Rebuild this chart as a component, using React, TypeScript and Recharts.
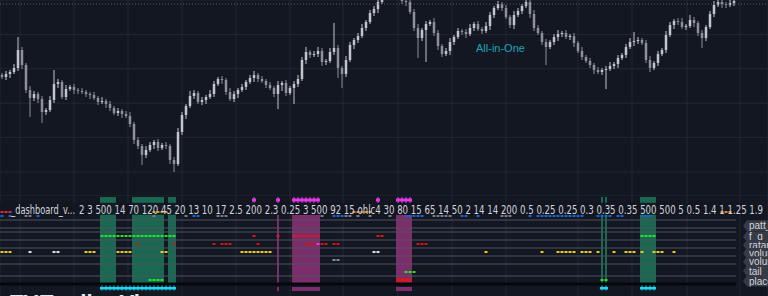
import React from "react";
import {
  ComposedChart,
  Bar,
  Scatter,
  XAxis,
  YAxis,
  CartesianGrid,
  ReferenceArea,
  ReferenceLine,
} from "recharts";

const W = 768;
const PRICE_H = 196;
const PANE_H = 100;
const BG = "#131722";

// ---- price pane (open = previous close) ----
const firstOpen = 125;
const closes = [
  123, 126, 128, 132, 150, 135, 110, 102, 106, 101,
  88, 90, 100, 116, 118, 103, 111, 113, 110, 109,
  108, 106, 105, 102, 98, 99, 96, 92, 87, 89,
  86, 84, 76, 60, 54, 45, 50, 55, 58, 52,
  55, 54, 40, 36, 68, 85, 94, 104, 107, 98,
  100, 103, 106, 116, 121, 120, 108, 101, 106, 110,
  113, 118, 122, 125, 121, 119, 115, 112, 106, 115,
  117, 107, 112, 116, 121, 140, 148, 145, 146, 149,
  138, 139, 148, 152, 132, 126, 140, 155, 160, 164,
  172, 178, 187, 191, 198, 204, 206, 205, 203, 202,
  199, 198, 188, 172, 162, 170, 176, 178, 167, 154,
  146, 149, 158, 163, 169, 168, 166, 172, 176, 171,
  169, 174, 185, 192, 196, 192, 183, 175, 185, 189,
  194, 198, 186, 172, 167, 158, 153, 158, 163, 166,
  167, 163, 164, 157, 149, 143, 139, 135, 130, 128,
  130, 131, 134, 136, 142, 145, 153, 158, 159, 160,
  157, 140, 132, 137, 146, 150, 165, 175, 179, 178,
  173, 174, 180, 177, 167, 162, 173, 186, 195, 198,
  196, 195, 197, 199,
];
const wickUp = [
  2, 3, 2, 4, 13, 3, 2, 4, 3, 2,
  3, 2, 4, 14, 3, 2, 4, 2, 3, 2,
  3, 2, 2, 3, 2, 4, 2, 3, 2, 3,
  2, 3, 4, 2, 3, 2, 4, 3, 2, 3,
  2, 3, 2, 3, 4, 3, 2, 5, 3, 2,
  3, 2, 4, 3, 2, 3, 2, 4, 3, 2,
  3, 2, 3, 4, 2, 3, 2, 3, 2, 4,
  2, 3, 2, 3, 4, 3, 5, 2, 3, 4,
  3, 2, 4, 25, 3, 2, 4, 3, 2, 3,
  4, 2, 3, 3, 2, 3, 2, 3, 2, 3,
  3, 2, 2, 3, 4, 2, 3, 2, 4, 3,
  2, 3, 4, 2, 3, 2, 3, 4, 2, 3,
  2, 4, 3, 2, 3, 2, 3, 2, 4, 3,
  2, 3, 2, 4, 3, 2, 3, 2, 3, 4,
  2, 3, 2, 3, 2, 4, 2, 3, 2, 3,
  2, 3, 4, 2, 3, 2, 3, 4, 9, 3,
  2, 3, 4, 2, 3, 2, 4, 3, 2, 3,
  4, 2, 5, 3, 2, 3, 2, 3, 4, 2,
  3, 2, 3, 2,
];
const wickDn = [
  2, 3, 4, 2, 3, 4, 3, 19, 3, 4,
  11, 3, 2, 3, 4, 2, 3, 2, 4, 3,
  2, 3, 4, 2, 3, 2, 4, 3, 2, 3,
  4, 2, 3, 4, 3, 10, 3, 2, 4, 3,
  2, 3, 4, 8, 2, 3, 4, 2, 3, 2,
  3, 4, 2, 3, 2, 4, 3, 2, 3, 4,
  2, 3, 2, 4, 3, 2, 3, 2, 3, 15,
  6, 3, 2, 16, 3, 2, 4, 3, 2, 3,
  4, 3, 2, 3, 10, 14, 3, 2, 4, 3,
  2, 3, 2, 3, 4, 2, 3, 2, 3, 2,
  3, 4, 2, 3, 20, 3, 32, 2, 3, 4,
  3, 2, 4, 3, 2, 3, 4, 2, 3, 2,
  3, 2, 4, 3, 2, 3, 2, 3, 4, 2,
  3, 2, 4, 3, 2, 3, 18, 2, 3, 4,
  3, 2, 3, 4, 2, 3, 2, 3, 4, 2,
  3, 19, 2, 3, 4, 2, 3, 2, 4, 3,
  2, 3, 4, 2, 3, 2, 3, 2, 4, 3,
  2, 3, 2, 4, 3, 10, 3, 2, 3, 2,
  4, 3, 2, 3,
];
const priceGrid = [28, 62.4, 96.8, 131.2, 165.6];
const timeGrid = [5, 18.5, 32, 45.5, 59, 72.5, 85.75, 99.5, 113, 126.5, 144.5, 158, 171.75, 185];
const lastPrice = 196;

// ---- indicator pane: runs of bar indices [from, to] ----
const greenBands = [[25, 28], [33, 40], [42, 43], [150, 150], [151, 151], [160, 163]];
const pinkBands = [[69, 69], [73, 79], [99, 102]];
const paneLines = [19, 17, 16, 14, 12, 10, 8, 5];

const topMarks = [[63, 63], [69, 69], [73, 79], [94, 94], [99, 102]];
const orangeRow = [[38, 41], [88, 92], [180, 182]];
const redHead = [[0, 2]];
const blueRow = [[0, 0], [2, 2], [9, 9], [48, 49], [83, 85], [101, 105], [115, 116], [119, 119], [132, 132], [134, 145], [149, 152], [154, 155], [160, 162]];
const greyRow = [[6, 7], [38, 38], [46, 46], [54, 56], [80, 80], [86, 87], [89, 89], [92, 92], [97, 97], [108, 112], [125, 127]];
const greenRow15 = [[25, 43], [160, 163]];
const redRow15 = [[63, 63], [69, 69], [73, 79], [94, 95]];
const redRow13 = [[34, 34], [43, 43], [53, 53], [55, 57], [64, 64], [76, 78], [80, 81], [83, 84], [104, 106]];
const pinkRow13 = [[79, 79]];
const yellowRow11 = [[0, 2], [21, 23], [29, 32], [40, 41], [60, 67], [121, 121], [135, 135], [139, 143], [145, 147], [149, 149], [153, 153], [156, 158], [160, 160], [163, 165], [168, 168]];
const whiteRow11 = [[7, 7], [13, 14], [93, 94]];
const greyRow9 = [[83, 83], [84, 84]];
const greenRow6 = [[101, 103]];
const greenRow4 = [[37, 40], [150, 151]];
const redRow4 = [[99, 102]];
const cyanRow2 = [[25, 43], [150, 151], [160, 163]];

const settingsText =
  "2 3 500 14 70 120 45 20 13 10 17 2.5 200 2.3 0.25 3 500 92 15 ohlc4 30 80 15 65 14 50 2 14 14 200 0.5 0.25 0.25 0.3 0.35 0.35 500 500 5 0.5 1.4 1 1.25 1.9";
const scaleLabels = ["patt_", "f_g", "ratar", "volum", "volum", "tail", "place"];
const scaleLabelY = [225.7, 236.7, 245, 253.3, 261.7, 271, 281];

const candles = closes.map((c, i) => {
  const o = i === 0 ? firstOpen : closes[i - 1];
  return {
    i: i + 0.5,
    o,
    c,
    range: [Math.min(o, c) - wickDn[i], Math.max(o, c) + wickUp[i]],
  };
});

const expand = (runs: number[][], level: number) =>
  runs.flatMap(([a, b]) =>
    Array.from({ length: b - a + 1 }, (_, k) => ({ x: a + k + 0.5, y: level }))
  );

function Candle(props: any) {
  const { x, y, width, height, payload } = props;
  if (!payload || height == null || isNaN(y)) return null;
  const [lo, hi] = payload.range;
  const top = Math.min(y, y + height);
  const h = Math.abs(height);
  const k = hi > lo ? h / (hi - lo) : 0;
  const bodyTop = top + (hi - Math.max(payload.o, payload.c)) * k;
  const bodyH = Math.max(1, Math.abs(payload.o - payload.c) * k);
  const cx = x + width / 2;
  const col = payload.c >= payload.o ? "#c3c5cc" : "#8e9199";
  return (
    <g>
      <line x1={cx} x2={cx} y1={top} y2={top + h} stroke={col} strokeWidth={1} />
      <rect x={cx - 1.25} y={bodyTop} width={2.5} height={bodyH} fill={col} />
    </g>
  );
}

const dot = (color: string, w = 3, h = 2) => (p: any) =>
  <rect x={p.cx - w / 2} y={p.cy - h / 2} width={w} height={h} fill={color} />;

const cross = (color: string) => (p: any) => (
  <g fill={color}>
    <rect x={p.cx - 2} y={p.cy - 1.5} width={4} height={3} />
    <rect x={p.cx - 0.5} y={p.cy - 3} width={1} height={6} />
  </g>
);

const tickMark = (color: string) => (p: any) => (
  <g fill={color}>
    <rect x={p.cx - 2} y={p.cy - 1} width={4} height={2.5} />
    <rect x={p.cx - 0.5} y={p.cy - 2.5} width={1} height={5} />
  </g>
);

const rows = [
  { data: expand(topMarks, 24), shape: cross("#e23be6") },
  { data: expand(orangeRow, 21), shape: dot("#d98a1c") },
  { data: expand(redHead, 21), shape: dot("#d32f2f") },
  { data: expand(blueRow, 20), shape: dot("#1e63c6") },
  { data: expand(greyRow, 20), shape: dot("#787b86") },
  { data: expand(greenRow15, 15), shape: dot("#22e620") },
  { data: expand(redRow15, 15), shape: dot("#e51414") },
  { data: expand(redRow13, 13), shape: dot("#d51010") },
  { data: expand(pinkRow13, 13), shape: dot("#e23be6") },
  { data: expand(yellowRow11, 11), shape: dot("#e6cc12") },
  { data: expand(whiteRow11, 11), shape: dot("#e0e2e8") },
  { data: expand(greyRow9, 9), shape: dot("#8a8d96") },
  { data: expand(greenRow6, 6), shape: dot("#22e620") },
  { data: expand(greenRow4, 4), shape: dot("#22e620") },
  { data: expand(redRow4, 4), shape: dot("#e51414", 4, 3) },
  { data: expand(cyanRow2, 2), shape: tickMark("#1ad8f0") },
];

const bandX = ([a, b]: number[]) =>
  a === b ? { x1: a + 0.25, x2: a + 0.75 } : { x1: a, x2: b + 1 };

export default function App() {
  return (
    <div
      style={{
        position: "fixed",
        left: 0,
        top: 0,
        width: W,
        height: 296,
        overflow: "hidden",
        background: BG,
        fontFamily: "'Liberation Sans', Arial, sans-serif",
      }}
    >
      <ComposedChart
        width={W}
        height={PRICE_H}
        data={candles}
        margin={{ top: 0, right: 0, bottom: 0, left: 0 }}
        barCategoryGap={0}
        barGap={0}
      >
        <CartesianGrid stroke="#232632" />
        <XAxis dataKey="i" type="number" domain={[0, 192]} ticks={timeGrid} hide />
        <YAxis type="number" domain={[4, 200]} ticks={priceGrid} allowDataOverflow hide />
        <ReferenceLine y={lastPrice} stroke="#5d606b" strokeDasharray="1 2" />
        <Bar dataKey="range" shape={Candle} isAnimationActive={false} />
      </ComposedChart>

      <div
        style={{
          position: "absolute",
          left: 476,
          top: 42,
          fontSize: 11,
          color: "#1fa3b7",
        }}
      >
        All-in-One
      </div>

      <div style={{ position: "absolute", left: 0, top: PRICE_H }}>
        <ComposedChart
          width={W}
          height={PANE_H}
          margin={{ top: 0, right: 0, bottom: 0, left: 0 }}
        >
          <CartesianGrid stroke="#232632" horizontal={false} />
          <XAxis dataKey="x" type="number" domain={[0, 192]} ticks={timeGrid} hide />
          <YAxis dataKey="y" type="number" domain={[0, 25]} hide />
          {greenBands.map((r, k) => (
            <ReferenceArea key={"g" + k} {...bandX(r)} y1={3.25} y2={24.75} fill="#1b6852" fillOpacity={1} />
          ))}
          {pinkBands.map((r, k) => (
            <ReferenceArea key={"p" + k} {...bandX(r)} y1={3.25} y2={20.25} fill="#7c2d6b" fillOpacity={1} />
          ))}
          {pinkBands.map((r, k) => (
            <ReferenceArea key={"q" + k} {...bandX(r)} y1={1.25} y2={2.25} fill="#7c2d6b" fillOpacity={1} />
          ))}
          <ReferenceArea x1={0} x2={186} y1={20.3} y2={23.3} fill={BG} fillOpacity={0.92} />
          {paneLines.map((lv) => (
            <ReferenceLine
              key={lv}
              segment={[{ x: 0, y: lv }, { x: 184, y: lv }]}
              stroke="#4e525e"
            />
          ))}
          <ReferenceLine segment={[{ x: 0, y: 3 }, { x: 184, y: 3 }]} stroke="#05070b" strokeWidth={3} />
          {rows.map((r, k) => (
            <Scatter key={k} data={r.data} shape={r.shape} isAnimationActive={false} />
          ))}
        </ComposedChart>
      </div>

      <svg
        width={W}
        height={296}
        style={{ position: "absolute", left: 0, top: 0, pointerEvents: "none" }}
      >
        <g fontFamily="'Liberation Sans Narrow', 'DejaVu Sans Condensed', 'Liberation Sans', sans-serif">
          <text x={11} y={214} fontSize={13} fill="#d1d4dc" textLength={64} lengthAdjust="spacingAndGlyphs">
            _dashboard_v...
          </text>
          <text x={79} y={214} fontSize={13} fill="#d1d4dc" textLength={684} lengthAdjust="spacingAndGlyphs">
            {settingsText}
          </text>
        </g>
        <text x={10} y={310} fontSize={22} fontWeight="bold" fill="#e8e9ee">
          TV
        </text>
        <text x={40} y={310} fontSize={22} fontWeight="bold" fill="#e8e9ee">
          TradingView
        </text>
      </svg>

      {scaleLabels.map((t, k) => (
        <div
          key={k}
          style={{
            position: "absolute",
            left: 743,
            top: scaleLabelY[k] - 5.5,
            width: 25,
            height: 11,
            background: "#363a45",
            clipPath: "polygon(4px 0, 100% 0, 100% 100%, 4px 100%, 0 50%)",
            color: "#d1d4dc",
            fontSize: 10,
            lineHeight: "11px",
            paddingLeft: 6,
            boxSizing: "border-box",
            overflow: "hidden",
            whiteSpace: "nowrap",
          }}
        >
          {t}
        </div>
      ))}
    </div>
  );
}
